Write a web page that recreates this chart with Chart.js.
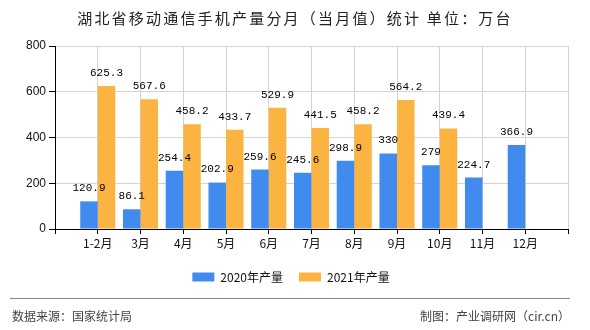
<!DOCTYPE html>
<html>
<head>
<meta charset="utf-8">
<script src="https://cdn.jsdelivr.net/npm/chart.js@4/dist/chart.umd.min.js"></script>
<style>
  html, body { margin: 0; padding: 0; background: #fff; }
  #wrap { position: relative; width: 590px; height: 330px; overflow: hidden; }
  #c { position: absolute; left: 0; top: 0; }
  #title { position: absolute; left: 0; width: 590px; top: 7px; text-align: center;
    font: 15px "Noto Sans CJK SC", sans-serif; letter-spacing: 2.2px; color: #222; line-height: 21px; }
  #line { position: absolute; left: 10px; width: 560px; top: 298px; height: 1px; background: #888; }
  .foot { position: absolute; top: 308px; font: 12px "Noto Sans CJK SC", sans-serif; color: #444; line-height: 16px; }
  #fl { left: 12px; }
  #fr { right: 20px; }
</style>
</head>
<body>
<div id="wrap">
  <canvas id="c" width="590" height="330"></canvas>
  <div id="title">湖北省移动通信手机产量分月（当月值）统计 单位：万台</div>
  <div id="line"></div>
  <div class="foot" id="fl">数据来源：国家统计局</div>
  <div class="foot" id="fr">制图：产业调研网（cir.cn）</div>
</div>
<script>
const categories = ['', '1-2月', '3月', '4月', '5月', '6月', '7月', '8月', '9月', '10月', '11月', '12月', ''];
const series2020 = [null, 120.9, 86.1, 254.4, 202.9, 259.6, 245.6, 298.9, 330, 279, 224.7, 366.9, null];
const series2021 = [null, 625.3, 567.6, 458.2, 433.7, 529.9, 441.5, 458.2, 564.2, 439.4, null, null, null];
const seriesNames = ['2020年产量', '2021年产量'];
const yTicks = [0, 200, 400, 600, 800];

const labelPlugin = {
  id: 'valueLabels',
  afterDatasetsDraw(chart) {
    const ctx = chart.ctx;
    ctx.save();
    ctx.font = '11px "Liberation Mono", monospace';
    ctx.fillStyle = '#000';
    ctx.textAlign = 'center';
    ctx.textBaseline = 'middle';
    chart.data.datasets.forEach((ds, di) => {
      const meta = chart.getDatasetMeta(di);
      meta.data.forEach((el, i) => {
        const v = ds.data[i];
        if (v === null || v === undefined) return;
        ctx.fillText(String(v), el.x, el.y - 13);
      });
    });
    ctx.restore();
  }
};

new Chart(document.getElementById('c'), {
  type: 'bar',
  data: {
    labels: categories,
    datasets: [
      { label: seriesNames[0], data: series2020, backgroundColor: '#428BEE', categoryPercentage: 0.82, barPercentage: 1.0 },
      { label: seriesNames[1], data: series2021, backgroundColor: '#FBB441', categoryPercentage: 0.82, barPercentage: 1.0 }
    ]
  },
  options: {
    responsive: false,
    animation: false,
    layout: { padding: { left: 14, right: 22, top: 46, bottom: 37 } },
    plugins: {
      title: { display: false },
      tooltip: { enabled: false },
      legend: {
        position: 'bottom',
        labels: {
          boxWidth: 22, boxHeight: 9, padding: 16, color: '#111',
          font: { size: 12, family: '"Noto Sans CJK SC", sans-serif' }
        }
      }
    },
    scales: {
      x: {
        offset: false,
        grid: { offset: false, color: '#d4d4d4', tickColor: '#000', tickLength: 5, drawOnChartArea: true },
        border: { color: '#000', width: 1 },
        ticks: { color: '#111', padding: 2, autoSkip: false, maxRotation: 0,
          font: { size: 12, family: '"Noto Sans CJK SC", sans-serif' } },
        afterFit(s) { s.height = 26; }
      },
      y: {
        min: 0, max: 800,
        afterBuildTicks(s) { s.ticks = yTicks.map(v => ({ value: v })); },
        grid: { color: '#d4d4d4', tickColor: '#000', tickLength: 6 },
        border: { color: '#000', width: 1 },
        ticks: { color: '#111', padding: 3, font: { size: 12, family: '"Liberation Sans", sans-serif' } },
        afterFit(s) { s.width = 41; }
      }
    }
  },
  plugins: [labelPlugin]
});
</script>
</body>
</html>
